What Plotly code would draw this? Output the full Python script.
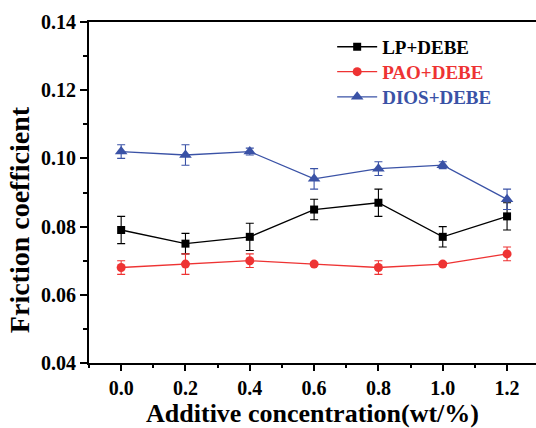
import plotly.graph_objects as go

# Additive concentration (wt%)
concentration = [0.0, 0.2, 0.4, 0.6, 0.8, 1.0, 1.2]

# Friction coefficient and standard deviation for each base oil + DEBE
lp_debe = [0.079, 0.075, 0.077, 0.085, 0.087, 0.077, 0.083]
lp_debe_err = [0.004, 0.003, 0.004, 0.003, 0.004, 0.003, 0.004]

pao_debe = [0.068, 0.069, 0.070, 0.069, 0.068, 0.069, 0.072]
pao_debe_err = [0.002, 0.003, 0.002, 0.0005, 0.002, 0.0005, 0.002]

dios_debe = [0.102, 0.101, 0.102, 0.094, 0.097, 0.098, 0.088]
dios_debe_err = [0.002, 0.003, 0.001, 0.003, 0.002, 0.001, 0.003]

series = [
    ("LP+DEBE", lp_debe, lp_debe_err, "#000000", "square", 8),
    ("PAO+DEBE", pao_debe, pao_debe_err, "#EE3333", "circle", 9),
    ("DIOS+DEBE", dios_debe, dios_debe_err, "#3A52A6", "triangle-up", 11),
]

FONT = "Liberation Serif, Times New Roman, serif"

# one legend box per series so the rows can be spaced freely
legend_ids = ["legend", "legend2", "legend3"]
legend_rows_y = [0.927, 0.854, 0.780]

fig = go.Figure()
for (name, y, err, color, symbol, size), lg in zip(series, legend_ids):
    fig.add_trace(go.Scatter(
        x=concentration,
        y=y,
        name=f"<span style='color:{color}'>{name}</span>",
        legend=lg,
        mode="lines+markers",
        line=dict(color=color, width=1.3),
        marker=dict(symbol=symbol, size=size, color=color),
        error_y=dict(type="data", array=err, visible=True,
                     color=color, thickness=1.1, width=4),
    ))

legend_style = dict(
    x=0.544, xanchor="left", yanchor="middle",
    bgcolor="rgba(0,0,0,0)", borderwidth=0,
    font=dict(family=FONT, size=19, weight="bold"),
    itemwidth=40,
)

fig.update_layout(
    width=536,
    height=428,
    margin=dict(l=89, r=0, t=22, b=65),
    paper_bgcolor="white",
    plot_bgcolor="white",
    font=dict(family=FONT, color="black", weight="bold"),
    showlegend=True,
    legend=dict(y=legend_rows_y[0], **legend_style),
    legend2=dict(y=legend_rows_y[1], **legend_style),
    legend3=dict(y=legend_rows_y[2], **legend_style),
    xaxis=dict(
        range=[-0.1, 1.29],
        tickvals=concentration,
        ticktext=[f"{v:.1f}" for v in concentration],
        ticks="outside", ticklen=6, tickwidth=1.5, tickcolor="black",
        minor=dict(dtick=0.1, tick0=0.1, ticks="outside", ticklen=3.5,
                   tickwidth=1.5, tickcolor="black", showgrid=False),
        showline=True, linecolor="black", linewidth=1.8,
        mirror=True,
        showgrid=False, zeroline=False,
        tickfont=dict(family=FONT, size=20, color="black", weight="bold"),
        title=dict(text="Additive concentration(wt/%)",
                   font=dict(family=FONT, size=26, color="black", weight="bold"),
                   standoff=8),
    ),
    yaxis=dict(
        range=[0.04, 0.14],
        dtick=0.02,
        tickformat=".2f",
        ticks="outside", ticklen=7, tickwidth=1.5, tickcolor="black",
        minor=dict(dtick=0.01, ticks="outside", ticklen=4,
                   tickwidth=1.5, tickcolor="black", showgrid=False),
        showline=True, linecolor="black", linewidth=1.8,
        mirror=False,
        showgrid=False, zeroline=False,
        tickfont=dict(family=FONT, size=20, color="black", weight="bold"),
    ),
    annotations=[dict(
        text="Friction coefficient",
        xref="paper", yref="paper",
        x=-0.155, y=0.421,
        xanchor="center", yanchor="middle",
        textangle=-90, showarrow=False,
        font=dict(family=FONT, size=28, color="black", weight="bold"),
    )],
)

fig.write_html("out.html")
